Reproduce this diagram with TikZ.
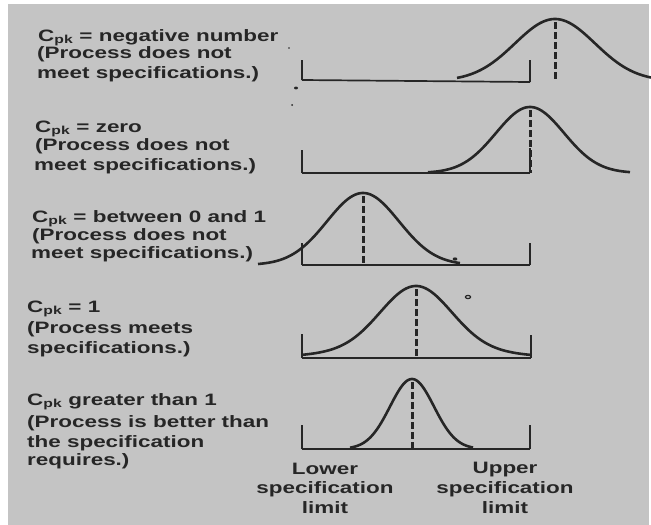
\documentclass[tikz,border=0pt]{standalone}
\usepackage{fontspec}
\newfontfamily\lab{Liberation Sans}[FakeStretch=1.36]
\definecolor{paper}{RGB}{196,196,196}
\definecolor{ink}{RGB}{38,38,38}
\begin{document}
\begin{tikzpicture}[x=1pt,y=-1pt,
  txt/.style={anchor=base west, inner sep=0pt, text=ink, font=\lab\bfseries\fontsize{16.5}{20}\selectfont},
  lim/.style={anchor=base, inner sep=0pt, text=ink, font=\lab\bfseries\fontsize{16.5}{20}\selectfont},
  curve/.style={draw=ink, line width=2.6pt, line join=round},
  axis/.style={draw=ink, line width=1.7pt},
  tickln/.style={draw=ink, line width=2.2pt},
  mean/.style={draw=ink, line width=3pt, dash pattern=on 6.5pt off 3.5pt},
  speck/.style={fill=ink},
  declare function={bellmix(\t,\m,\s)=0.85*exp(-((\t-\m)/\s)^2/2)+0.15*exp(-((\t-\m)/(2*\s))^2/2);
                    bell(\t,\m,\s)=exp(-((\t-\m)/\s)^2/2);}]
\useasboundingbox (0,0) rectangle (651,525);
\fill[white] (0,0) rectangle (651,525);
\fill[paper] (8,4) rectangle (649,525);

% ---------- texts ----------
\node[txt] (t1a) at (38,41) {C\textsubscript{pk} = negative number};
\node[txt] (t1b) at (37,58) {(Process does not};
\node[txt] (t1c) at (37,78) {meet specifications.)};
\node[txt] (t2a) at (35,132) {C\textsubscript{pk} = zero};
\node[txt] (t2b) at (35,150) {(Process does not};
\node[txt] (t2c) at (34,170) {meet specifications.)};
\node[txt] (t3a) at (32,222) {C\textsubscript{pk} = between 0 and 1};
\node[txt] (t3b) at (32,240) {(Process does not};
\node[txt] (t3c) at (31,258) {meet specifications.)};
\node[txt] (t4a) at (27,312) {C\textsubscript{pk} = 1};
\node[txt] (t4b) at (27,333) {(Process meets};
\node[txt] (t4c) at (27,353) {specifications.)};
\node[txt] (t5a) at (27,405) {C\textsubscript{pk} greater than 1};
\node[txt] (t5b) at (27,427) {(Process is better than};
\node[txt] (t5c) at (27,447) {the specification};
\node[txt] (t5d) at (27,465) {requires.)};
\node[lim] (lla) at (325,474) {Lower};
\node[lim] (llb) at (325,493) {specification};
\node[lim] (llc) at (325,513) {limit};
\node[lim] (ula) at (505,473) {Upper};
\node[lim] (ulb) at (505,493) {specification};
\node[lim] (ulc) at (505,513) {limit};

% ---------- panel 1 ----------
\coordinate (L1) at (302,80);
\coordinate (U1) at (530,82);
\draw[axis] (L1) -- (U1);
\draw[tickln] (L1) -- ++(0,-20);
\draw[tickln] (U1) -- ++(0,-22);
\draw[mean] (555,22) coordinate (m1) -- (555,82);
\draw[curve] plot[domain=457:651, samples=120] (\x,{81-62*bell(\x,555,40)});

% ---------- panel 2 ----------
\coordinate (L2) at (302,173);
\coordinate (U2) at (530,173);
\draw[axis] (L2) -- (U2);
\draw[tickln] (L2) -- ++(0,-23);
\draw[tickln] (U2) -- ++(0,-25);
\draw[mean] (530,110) coordinate (m2) -- (U2);
\draw[curve] plot[domain=428:630, samples=120] (\x,{173-66*bell(\x,530,34)});

% ---------- panel 3 ----------
\coordinate (L3) at (302,265);
\coordinate (U3) at (530,265);
\draw[axis] (L3) -- (U3);
\draw[tickln] (L3) -- ++(0,-22);
\draw[tickln] (U3) -- ++(0,-22);
\draw[mean] (363,196) coordinate (m3) -- (363,265);
\draw[curve] plot[domain=258:460, samples=120] (\x,{265-72*bell(\x,363,36)});

% ---------- panel 4 ----------
\coordinate (L4) at (302,358);
\coordinate (U4) at (531,358);
\draw[axis] (L4) -- (U4);
\draw[tickln] (L4) -- ++(0,-24);
\draw[tickln] (U4) -- ++(0,-23);
\draw[mean] (416,289) coordinate (m4) -- (416,358);
\draw[curve] plot[domain=302:531, samples=140] (\x,{358-72*bellmix(\x,416,35)});

% ---------- panel 5 ----------
\coordinate (L5) at (302,449);
\coordinate (U5) at (530,449);
\draw[axis] (L5) -- (U5);
\draw[tickln] (L5) -- ++(0,-24);
\draw[tickln] (U5) -- ++(0,-24);
\draw[mean] (412,382) coordinate (m5) -- (412,449);
\draw[curve] plot[domain=350:473, samples=100] (\x,{449-70*bell(\x,412,22)});

% ---------- scan specks ----------
\fill[speck] (289,48) circle (0.9);
\fill[speck] (296,88) ellipse (2 and 1.4);
\fill[speck] (292,105) circle (1);
\fill[speck] (455,259) ellipse (2.4 and 1.6);
\draw[ink, line width=1.2pt] (468,297) ellipse (2.6 and 1.6);
\end{tikzpicture}
\end{document}
